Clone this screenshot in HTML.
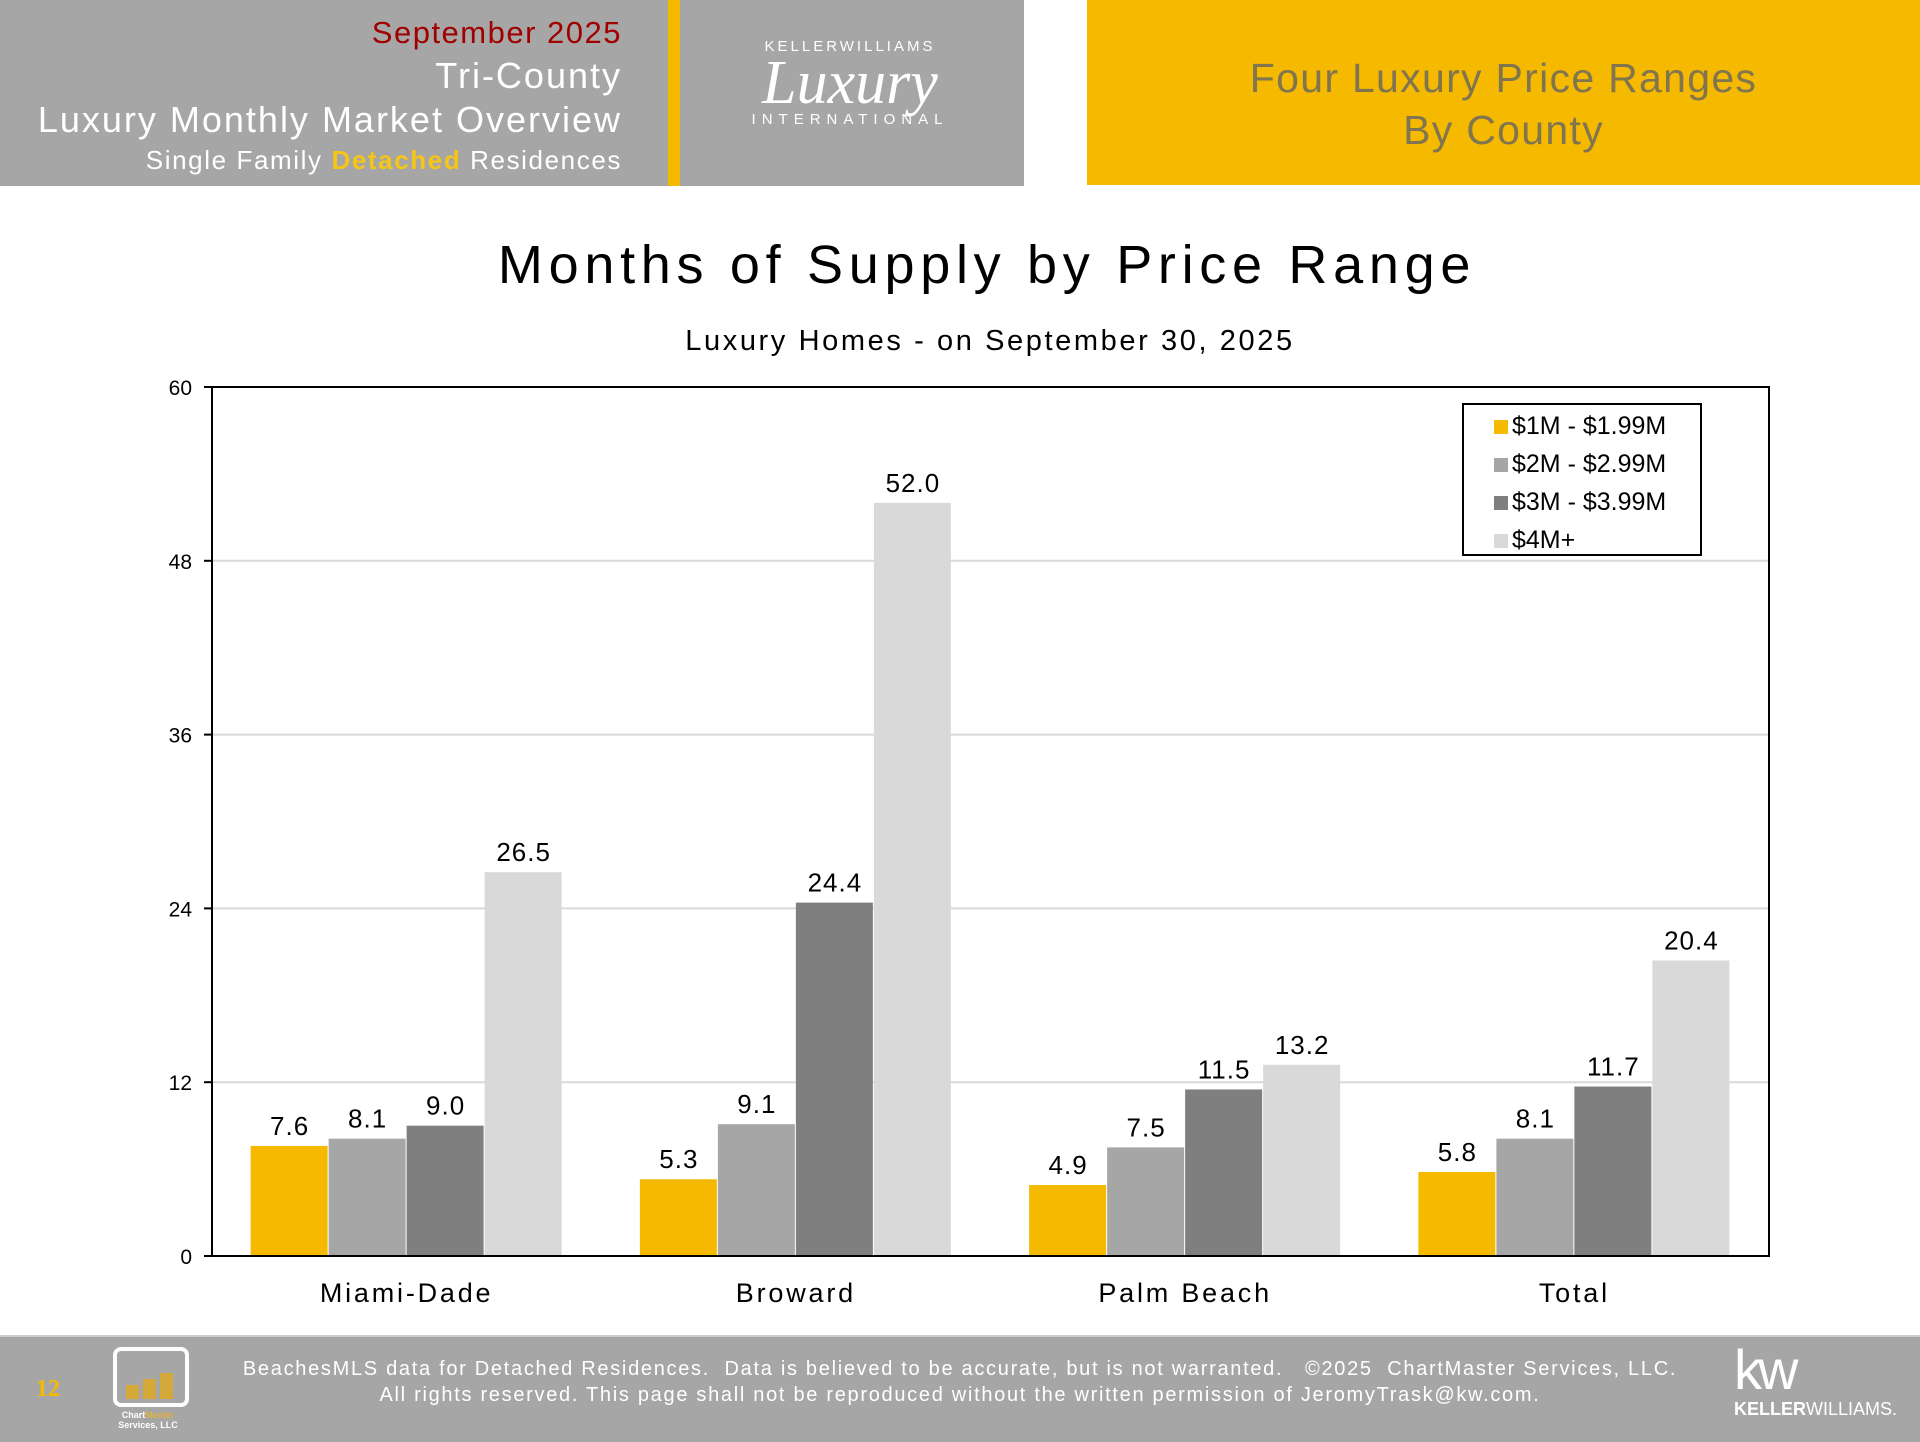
<!DOCTYPE html>
<html><head><meta charset="utf-8">
<style>
body{margin:0;width:1920px;height:1440px;position:relative;background:#fff;font-family:"Liberation Sans","DejaVu Sans",sans-serif;overflow:hidden}
.abs{position:absolute}
</style></head>
<body>
<div class="abs" style="left:0;top:0;width:1024px;height:186px;background:#a6a6a6"></div>
<div class="abs" style="left:668px;top:0;width:12px;height:186px;background:#f5ba00"></div>
<div class="abs" style="right:1298px;top:12px;text-align:right;color:#fff;white-space:nowrap">
 <div style="color:#a00000;font-size:31px;line-height:42px;letter-spacing:1.5px">September 2025</div>
 <div style="font-size:36px;line-height:44px;letter-spacing:2px">Tri-County</div>
 <div style="font-size:36px;line-height:44px;letter-spacing:2px">Luxury Monthly Market Overview</div>
 <div style="font-size:26px;line-height:36px;letter-spacing:1.6px">Single Family <b style="color:#f5c518">Detached</b> Residences</div>
</div>
<div class="abs" style="left:700px;top:38px;width:320px;height:110px;color:#fff;text-align:center">
 <div style="font-size:15px;letter-spacing:3px;margin-left:-20px">KELLERWILLIAMS</div>
 <div style="font-family:'Liberation Serif',serif;font-style:italic;font-size:62px;line-height:56px;margin-left:-20px">Luxury</div>
 <div style="font-size:15px;letter-spacing:6px;margin-left:-20px">INTERNATIONAL</div>
</div>
<div class="abs" style="left:1087px;top:0;width:833px;height:185px;background:#f5ba00;color:#80754f;text-align:center;font-size:41px;line-height:52px;padding-top:52px;box-sizing:border-box;letter-spacing:1.3px">
 <div>Four Luxury Price Ranges</div><div>By County</div>
</div>

<div class="abs" style="left:0;width:1974px;top:234px;text-align:center;font-size:54px;color:#000;letter-spacing:5.7px">Months of Supply by Price Range</div>
<div class="abs" style="left:0;width:1980px;top:325px;text-align:center;font-size:29px;color:#000;letter-spacing:2.6px">Luxury Homes - on September 30, 2025</div>

<svg class="abs" style="left:0;top:0" width="1920" height="1440" id="chart"></svg>

<div class="abs" style="left:1462px;top:403px;width:240px;height:153px;border:2px solid #000;background:#fff;font-size:25px;line-height:38px;padding:2px 0 0 30px;box-sizing:border-box;white-space:nowrap">
 <div><span style="display:inline-block;width:14px;height:14px;background:#f5ba00;margin-right:4px"></span>$1M - $1.99M</div>
 <div><span style="display:inline-block;width:14px;height:14px;background:#a6a6a6;margin-right:4px"></span>$2M - $2.99M</div>
 <div><span style="display:inline-block;width:14px;height:14px;background:#7f7f7f;margin-right:4px"></span>$3M - $3.99M</div>
 <div><span style="display:inline-block;width:14px;height:14px;background:#d9d9d9;margin-right:4px"></span>$4M+</div>
</div>

<div class="abs" style="left:0;top:1335px;width:1920px;height:105px;background:#a6a6a6;border-top:2px solid #ccc"></div>
<div class="abs" style="left:36px;top:1376px;color:#f5ba00;font-family:'Liberation Serif',serif;font-weight:bold;font-size:24px">12</div>
<div class="abs" style="left:113px;top:1347px;width:68px;height:52px;border:4px solid #fff;border-radius:8px">
 <div style="position:absolute;left:9px;bottom:4px;width:13px;height:14px;background:#d4a93a"></div>
 <div style="position:absolute;left:26px;bottom:4px;width:13px;height:20px;background:#d4a93a"></div>
 <div style="position:absolute;left:43px;bottom:4px;width:13px;height:26px;background:#d4a93a"></div>
</div>
<div class="abs" style="left:108px;top:1410px;width:80px;text-align:center;color:#fff;font-size:9px;line-height:10px;font-weight:bold">Chart<span style="color:#e0b040">Master</span><br>Services, LLC</div>
<div class="abs" style="left:0;width:1920px;top:1356px;text-align:center;color:#fff;font-size:20px;line-height:26px;letter-spacing:1.7px">BeachesMLS data for Detached Residences.&nbsp; Data is believed to be accurate, but is not warranted.&nbsp;&nbsp; ©2025&nbsp; ChartMaster Services, LLC.<br>All rights reserved. This page shall not be reproduced without the written permission of JeromyTrask@kw.com.</div>
<div class="abs" style="left:1734px;top:1342px;color:#fff;width:170px">
 <div style="font-size:56px;line-height:56px;letter-spacing:-4px">kw</div>
 <div style="font-size:18px;line-height:22px"><b>KELLER</b>WILLIAMS.</div>
</div>

<script>
const categories=["Miami-Dade","Broward","Palm Beach","Total"];
const series1M=[7.6,5.3,4.9,5.8];
const series2M=[8.1,9.1,7.5,8.1];
const series3M=[9.0,24.4,11.5,11.7];
const series4M=[26.5,52.0,13.2,20.4];
const yTicks=[0,12,24,36,48,60];
const seriesList=[series1M,series2M,series3M,series4M];
const colors=["#f5ba00","#a6a6a6","#7f7f7f","#d9d9d9"];
const names=["1m","2m","3m","4m"];
const L=212,R=1769,T=387,B=1256,yMax=60;
const svg=document.getElementById('chart');
const NS="http://www.w3.org/2000/svg";
function y(v){return B-(v/yMax)*(B-T);}
const gw=(R-L)/categories.length;
function cx(i){return L+gw*(i+0.5);}
function mk(tag,attrs){const e=document.createElementNS(NS,tag);for(const k in attrs)e.setAttribute(k,attrs[k]);svg.appendChild(e);return e;}
yTicks.forEach(t=>{
 if(t>0&&t<yMax){const g=mk('line',{x1:L,x2:R,y1:y(t),y2:y(t),stroke:'#d9d9d9','stroke-width':2});
 
 }
 const tk=mk('line',{x1:L-8,x2:L,y1:y(t),y2:y(t),stroke:'#000','stroke-width':2});
 
 
 const tx=mk('text',{x:L-20,y:y(t)+8,'text-anchor':'end','font-size':21,'font-family':'Liberation Sans, sans-serif'});
 tx.textContent=t;
 
 
});
const bw=78;
categories.forEach((c,i)=>{
 seriesList.forEach((s,j)=>{
  const x=cx(i)-2*bw+j*bw;
  const r=mk('rect',{x:x,y:y(s[i]),width:bw-1,height:B-y(s[i]),fill:colors[j]});
  
  
  const t=mk('text',{x:x+bw/2,y:y(s[i])-11,'text-anchor':'middle','font-size':26,'letter-spacing':1,'font-family':'Liberation Sans, sans-serif'});
  t.textContent=s[i].toFixed(1);
  
  
 });
 const cl=mk('text',{x:cx(i),y:1302,'text-anchor':'middle','font-size':27,'letter-spacing':2.8,'font-family':'Liberation Sans, sans-serif'});
 cl.textContent=c;
 
 
});
const fr=mk('rect',{x:L,y:T,width:R-L,height:B-T,fill:'none',stroke:'#000','stroke-width':2});


</script>
</body></html>
